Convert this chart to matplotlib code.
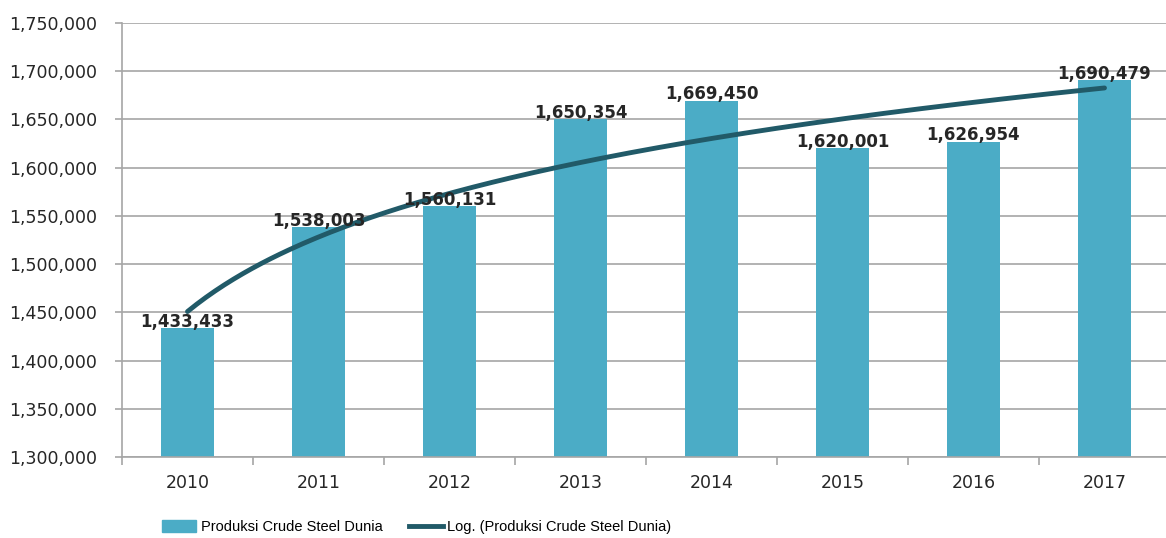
import matplotlib.pyplot as plt
import numpy as np
from matplotlib.ticker import FuncFormatter
from matplotlib.patches import Patch
from matplotlib.lines import Line2D

years = ["2010", "2011", "2012", "2013", "2014", "2015", "2016", "2017"]
production = [1433433, 1538003, 1560131, 1650354, 1669450, 1620001, 1626954, 1690479]

bar_color = "#4bacc6"
trend_color = "#215a68"
grid_color = "#a6a6a6"

fig = plt.figure(figsize=(11.66, 5.38), dpi=100)
ax = fig.add_axes([122 / 1166, 1 - 457 / 538, 1048 / 1166, 434 / 538])

x = np.arange(len(years))
ax.bar(x, production, width=0.40, color=bar_color, zorder=2)

# logarithmic trendline (least squares on ln(n), as Excel does)
n = x + 1
slope, intercept = np.polyfit(np.log(n), production, 1)
xs = np.linspace(0, len(years) - 1, 200)
ax.plot(xs, slope * np.log(xs + 1) + intercept, color=trend_color, lw=3.5,
        solid_capstyle="round", zorder=3)

for xi, v in zip(x, production):
    ax.annotate(f"{v:,}", (xi, v), xytext=(0, 1), textcoords="offset points",
                ha="center", va="baseline", fontsize=12, fontweight="bold",
                color="#262626", family="DejaVu Sans", zorder=4)

ax.set_ylim(1300000, 1750000)
ax.set_yticks(np.arange(1300000, 1750001, 50000))
ax.yaxis.set_major_formatter(FuncFormatter(lambda v, p: f"{int(v):,}"))
ax.set_xlim(-0.5, len(years) - 0.5)
ax.set_xticks(x)
ax.set_xticklabels(years)
ax.set_xticks(np.arange(-0.5, len(years), 1), minor=True)
ax.tick_params(axis="x", which="major", length=0, pad=12, labelsize=12.5, colors="#262626")
ax.tick_params(axis="x", which="minor", length=6, width=1.2, color=grid_color, direction="out")
ax.tick_params(axis="y", length=5, width=1.2, color=grid_color, labelsize=12.5,
               labelcolor="#262626", pad=13)
ax.yaxis.grid(True, color=grid_color, lw=1.2, zorder=0)
ax.set_axisbelow(True)
for s in ["top", "right"]:
    ax.spines[s].set_visible(False)
for s in ["left", "bottom"]:
    ax.spines[s].set_color(grid_color)
    ax.spines[s].set_linewidth(1.2)

handles = [Patch(color=bar_color), Line2D([0], [0], color=trend_color, lw=3.5)]
labels = ["Produksi Crude Steel Dunia", "Log. (Produksi Crude Steel Dunia)"]
fig.legend(handles, labels, loc="center left", bbox_to_anchor=(149 / 1166, 1 - 527 / 538),
           ncol=2, frameon=False, columnspacing=1.8, handlelength=2.35,
           handletextpad=0.3, handleheight=0.9,
           prop={"family": "Liberation Sans", "size": 10.5})

fig.savefig("out.png", dpi=100)
